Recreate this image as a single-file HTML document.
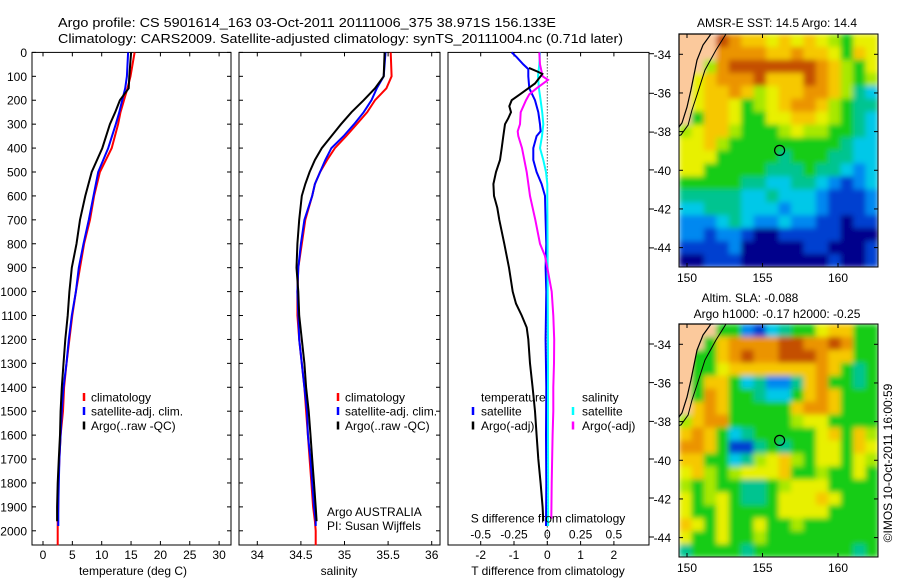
<!DOCTYPE html>
<html><head><meta charset="utf-8"><style>
html,body{margin:0;padding:0;background:#fff;}
svg{display:block;font-family:"Liberation Sans",sans-serif;}
</style></head><body>
<svg id="fig" xmlns="http://www.w3.org/2000/svg" width="900" height="580" viewBox="0 0 900 580">
<defs>
<filter id="blur" x="0" y="0" width="1" height="1"><feGaussianBlur stdDeviation="2.6" edgeMode="duplicate"/></filter>
<clipPath id="clip1"><rect x="679" y="34" width="199" height="233"/></clipPath>
<clipPath id="clip2"><rect x="679" y="324" width="199" height="233"/></clipPath>
</defs>
<rect x="0" y="0" width="900" height="580" fill="#fff"/>
<text x="58" y="27" font-size="13" textLength="498" lengthAdjust="spacingAndGlyphs">Argo profile: CS 5901614_163 03-Oct-2011 20111006_375 38.971S 156.133E</text>
<text x="58" y="43" font-size="13" textLength="565" lengthAdjust="spacingAndGlyphs">Climatology: CARS2009. Satellite-adjusted climatology: synTS_20111004.nc (0.71d later)</text>
<g id="g"></g>
</svg>
<script>
// ---------- data ----------
const depthT = [0,100,150,200,250,300,400,500,600,700,800,900,1000,1100,1200,1300,1400,1500,1600,1700,1800,1900,1960,2000,2060];
const tempClim = [15.6,14.9,14.4,13.8,13.2,12.8,11.7,9.7,8.7,8.0,7.0,6.3,5.6,5.0,4.5,4.0,3.6,3.4,3.0,2.8,2.6,2.6,2.5,2.5,2.5];
const tempSat  = [14.5,14.3,14.0,13.5,13.0,12.4,11.1,9.4,8.6,7.8,6.9,6.1,5.6,4.9,4.4,4.0,3.5,3.2,3.0,2.8,2.7,2.6,2.6];
const tempArgo = [15.0,14.7,14.6,13.1,12.3,11.4,10.1,8.3,7.2,6.3,5.7,4.9,4.5,4.2,3.8,3.5,3.2,3.0,2.9,2.7,2.5,2.4,2.4];
const depthS = [0,100,150,200,250,300,350,400,450,500,550,600,700,800,900,1000,1100,1200,1300,1400,1500,1600,1700,1800,1900,1960,2000,2060];
const salClim = [35.53,35.54,35.48,35.35,35.26,35.14,35.02,34.89,34.80,34.72,34.66,34.63,34.55,34.51,34.47,34.46,34.46,34.48,34.51,34.54,34.56,34.58,34.60,34.62,34.64,34.66,34.67,34.67];
const salSat  = [35.47,35.45,35.37,35.31,35.22,35.11,34.99,34.85,34.78,34.72,34.66,34.63,34.54,34.50,34.47,34.46,34.47,34.48,34.51,34.54,34.57,34.58,34.61,34.63,34.65,34.67,34.67];
const salArgo = [35.46,35.45,35.35,35.22,35.08,34.96,34.85,34.74,34.66,34.60,34.55,34.51,34.48,34.46,34.45,34.47,34.48,34.51,34.54,34.56,34.59,34.61,34.63,34.65,34.67,34.68];
const dDepthTS = [0,20,50,70,100,150,200,250,300,330,350,400,450,500,550,600,700,800,900,1000,1200,1400,1600,1800,1980];
const dTsat = [-1.07,-0.92,-0.72,-0.57,-0.57,-0.54,-0.37,-0.27,-0.22,-0.2,-0.32,-0.42,-0.42,-0.32,-0.17,-0.07,-0.05,-0.03,-0.05,-0.03,-0.05,-0.03,-0.04,-0.03,-0.04];
const dDepthTA = [65,80,90,100,130,150,175,200,225,250,275,300,350,400,450,500,550,600,650,700,800,900,1000,1050,1100,1150,1200,1300,1400,1500,1600,1700,1800,1900,1960];
const dTargo = [-0.55,-0.3,-0.15,-0.2,-0.37,-0.57,-0.82,-1.07,-1.14,-1.09,-1.17,-1.27,-1.32,-1.37,-1.42,-1.54,-1.62,-1.6,-1.5,-1.44,-1.29,-1.15,-1.04,-0.94,-0.77,-0.62,-0.57,-0.52,-0.44,-0.37,-0.32,-0.27,-0.2,-0.14,-0.12];
const dDepthSS = [0,50,100,150,200,250,300,350,400,450,500,550,600,800,1000,1200,1400,1600,1800,1980];
const dSsat = [-0.055,-0.06,-0.07,-0.063,-0.05,-0.038,-0.03,-0.04,-0.055,-0.03,-0.01,0,0,0.002,0.003,0.005,0.005,0.005,0.006,0.006];
const dDepthSA = [0,50,100,115,150,175,200,250,300,330,350,400,500,600,700,800,850,900,1000,1100,1200,1300,1400,1500,1600,1800,1950];
const dSargo = [-0.06,-0.055,-0.035,0.005,-0.08,-0.135,-0.16,-0.2,-0.205,-0.222,-0.218,-0.19,-0.155,-0.13,-0.09,-0.055,-0.018,0,0.033,0.045,0.052,0.05,0.045,0.045,0.04,0.033,0.03];
const depthTicks = [0,100,200,300,400,500,600,700,800,900,1000,1100,1200,1300,1400,1500,1600,1700,1800,1900,2000];
const tempTicks = [0,5,10,15,20,25,30];
const salTicks = [34,34.5,35,35.5,36];
const salTickLabels = ["34","34.5","35","35.5","36"];
const dTTicks = [-2,-1,0,1,2];
const dSTicks = [-0.5,-0.25,0,0.25,0.5];
const latTicks = [-34,-36,-38,-40,-42,-44];
const lonTicks = [150,155,160];
const sstGrid = [
"LLLROYYyYyYygGyy","LLLOOOOYYOYYyGYy","LLgORRRRRRROYgGy","LyYOOORYYYROYgGg",
"LyYYOYgyYYOOYgTC","LyYYyGgyYOOYgGTT","LGYYyGGyyYYygGTC","gyYYgGGGgyggGGTC",
"yyYgGGGGGGGGGTCC","yyyGGGGGTGGGTTCC","yyGGGGGTTTGTTCBC","GGGGGTTCCTTCBbBC",
"TTTTTCCTCCCBbbbB","CCTTTCCCBCCBbbbB","BBBCTCBBCBBbbNbb","BBbBBbNNbbbbbNNN",
"bbbbBNNNNNbbNNNb","NNbbbNNNNNNNbNNb"];
const slaGrid = [
"LLLGGBbCTGGyYYGG","LLGYOOOORROOROGG","LGGYOROORRROYYGG","LGGyYYYYYYYOYGTG",
"LGYYGCTBBTYOGGTG","LGOYGGTCCGYOYGGG","LYOYGGGGGYOOYGGG","gYOOGGGGGgyyGGGG",
"YOYGCTGGGGGyYGYg","OOYGbbTGTGGyyGYy","YYGGCTgyYgGyyGyg","yYgGgyyyYGGgGGyG",
"gGgGGTTGgyyyGGGG","yGgyGTTGyyyYyGGG","yGGyGGGGyyyyGGGG","YyGyGGyGGgGGGGGG",
"yGGyGGgGGGGGGGGG","TGGGGTGGGGGGGGTG"];
const coastLon = [149.4,151.75,151.59,151.06,150.66,150.26,150.0,149.67,149.47,149.4];
const coastLat = [-32.85,-32.85,-32.95,-33.52,-34.3,-35.85,-36.73,-37.55,-37.76,-37.8];
const isoLon = [152.58,151.92,151.19,150.66,150.33,150.07,149.6,149.4];
const isoLat = [-32.95,-33.78,-34.81,-36.1,-36.88,-37.66,-38.17,-38.2];
const argoLon = 156.133, argoLat = -38.971;

// ---------- helpers ----------
const NS="http://www.w3.org/2000/svg";
const G=document.getElementById('g');
function mk(tag,attrs,parent){const e=document.createElementNS(NS,tag);for(const k in attrs)e.setAttribute(k,attrs[k]);(parent||G).appendChild(e);return e;}
function txt(s,x,y,size,anchor,parent){const t=mk('text',{x:x,y:y,'font-size':size,'text-anchor':anchor||'start'},parent);t.textContent=s;return t;}
const yD = d => 52.4 + d*0.2392;
function line(xs,ys,fx,fy,color,name,w){
  const pts=xs.map((v,i)=>fx(v).toFixed(1)+','+fy(ys[i]).toFixed(1)).join(' ');
  const p=mk('polyline',{points:pts,fill:'none',stroke:color,'stroke-width':w||2,'stroke-linejoin':'miter'});
  
  
  return p;
}
function frame(x0,x1,name){
  const r=mk('rect',{x:x0,y:52.4,width:x1-x0,height:545-52.4,fill:'none',stroke:'#000','stroke-width':1});
  
  
}
function depthTickMarks(x0,x1,labels){
  depthTicks.forEach(d=>{const y=yD(d);mk('line',{x1:x0,y1:y,x2:x0+4,y2:y,stroke:'#000'});mk('line',{x1:x1,y1:y,x2:x1-4,y2:y,stroke:'#000'});
    if(labels){const t=txt(String(d),27,y+4.5,12,'end');}});
}
function legendEntry(mx,tx,y,color,label){
  const m=mk('line',{x1:mx,y1:y-4,x2:mx,y2:y+4,stroke:color,'stroke-width':2.5});
  
  
  const t=txt(label,tx,y+4.5,12,'start');
  
  
}

// ---------- temperature panel ----------
const xT = v => 43 + v*5.87;
frame(32,231,'temperature-panel');
depthTickMarks(32,231,true);
tempTicks.forEach(v=>{const x=xT(v);mk('line',{x1:x,y1:545,x2:x,y2:541,stroke:'#000'});mk('line',{x1:x,y1:52.4,x2:x,y2:56.4,stroke:'#000'});
  const t=txt(String(v),x,559,12,'middle');});
line(tempClim,depthT.slice(0,tempClim.length),xT,yD,'#ff0000','temp-climatology-line');
line(tempSat,depthT.slice(0,tempSat.length).map((d,i)=>i===tempSat.length-1?1980:d),xT,yD,'#0000ff','temp-satellite-line');
line(tempArgo,depthT.slice(0,tempArgo.length),xT,yD,'#000000','temp-argo-line');
{const t=txt('temperature (deg C)',133,575,12,'middle');}
legendEntry(84,91,397,'#ff0000','climatology');
legendEntry(84,91,411,'#0000ff','satellite-adj. clim.');
legendEntry(84,91,425.5,'#000000','Argo(..raw -QC)');

// ---------- salinity panel ----------
const xS = v => 257.3 + (v-34)*87.2;
frame(239,440,'salinity-panel');
depthTickMarks(239,440,false);
salTicks.forEach((v,i)=>{const x=xS(v);mk('line',{x1:x,y1:545,x2:x,y2:541,stroke:'#000'});mk('line',{x1:x,y1:52.4,x2:x,y2:56.4,stroke:'#000'});
  const t=txt(salTickLabels[i],x,559,12,'middle');});
line(salClim,depthS.slice(0,salClim.length),xS,yD,'#ff0000','sal-climatology-line');
line(salSat,depthS.slice(0,salSat.length).map((d,i)=>i===salSat.length-1?1980:d),xS,yD,'#0000ff','sal-satellite-line');
line(salArgo,depthS.slice(0,salArgo.length),xS,yD,'#000000','sal-argo-line');
{const t=txt('salinity',339,575,12,'middle');}
legendEntry(338,345,397,'#ff0000','climatology');
legendEntry(338,345,411,'#0000ff','satellite-adj. clim.');
legendEntry(338,345,425.5,'#000000','Argo(..raw -QC)');
{const t=txt('Argo AUSTRALIA',327,516,12,'start');
 const t2=txt('PI: Susan Wijffels',327,530,12,'start');}

// ---------- difference panel ----------
const xDT = v => 547.3 + v*33.3;
const xDS = v => 547.3 + v*133.2;
frame(448,649,'difference-panel');
mk('line',{x1:xDT(0),y1:52.4,x2:xDT(0),y2:545,stroke:'#000','stroke-width':1,'stroke-dasharray':'1,2'});
[53.7,93.3,132.1,169.9,209,247.9,344,382.6,421.4,459,498,537].forEach(y=>mk('line',{x1:649,y1:y,x2:654,y2:y,stroke:'#000'}));
dTTicks.forEach(v=>{const x=xDT(v);mk('line',{x1:x,y1:52.4,x2:x,y2:56.4,stroke:'#000'});mk('line',{x1:x,y1:545,x2:x,y2:541,stroke:'#000'});
  const t=txt(String(v),x,559,12,'middle');});
dSTicks.forEach(v=>{const t=txt(String(v),xDS(v),538.5,12,'middle');});
line(dTsat,dDepthTS,xDT,yD,'#0000ff','t-diff-satellite-line');
line(dSsat,dDepthSS,xDS,yD,'#00ffff','s-diff-satellite-line');
line(dSargo,dDepthSA,xDS,yD,'#ff00ff','s-diff-argo-line');
line(dTargo,dDepthTA,xDT,yD,'#000000','t-diff-argo-line');
{const t=txt('S difference from climatology',548,522.5,12,'middle');
 const t2=txt('T difference from climatology',548,575,12,'middle');}
{const t=txt('temperature',481,401.5,12,'start');
 const t2=txt('salinity',582,401.5,12,'start');}
legendEntry(473,481,411,'#0000ff','satellite');
legendEntry(473,481,425.5,'#000000','Argo(-adj)');
legendEntry(573,582,411,'#00ffff','satellite');
legendEntry(573,582,425.5,'#ff00ff','Argo(-adj)');

// ---------- maps ----------
const PAL={L:'#fbc99c',R:'#c45000',O:'#eb9400',Y:'#f6c800',y:'#e8f000',g:'#a8e800',G:'#18cc18',T:'#00c490',C:'#00c8e8',B:'#0088f0',b:'#0040d0',N:'#00008c'};
function drawMap(top,grid,name,clipId){
  const x0=679,x1=878,y0=top,y1=top+233;
  const lonX=v=>687+(v-150)*15.1;
  const latY=v=>top+20.3+(-34-v)*19.33;
  const g=mk('g',{});
  
  
  const cg=mk('g',{'clip-path':'url(#'+clipId+')'},g);
  const bg=mk('g',{filter:'url(#blur)'},cg);
  const nr=grid.length,nc=grid[0].length,cw=(x1-x0)/nc,ch=(y1-y0)/nr;
  grid.forEach((row,r)=>{for(let c=0;c<nc;c++){mk('rect',{x:(x0+c*cw).toFixed(2),y:(y0+r*ch).toFixed(2),width:(cw+0.5).toFixed(2),height:(ch+0.5).toFixed(2),fill:PAL[row[c]]},bg);}});
  const cp=coastLon.map((v,i)=>Math.max(x0,lonX(v)).toFixed(1)+','+Math.max(y0,latY(coastLat[i])).toFixed(1)).join(' ');
  const land=mk('polygon',{points:cp,fill:'#fbc99c',stroke:'#000','stroke-width':1.2},g);
  
  
  const iso=mk('polyline',{points:isoLon.map((v,i)=>Math.max(x0,lonX(v)).toFixed(1)+','+Math.max(y0,latY(isoLat[i])).toFixed(1)).join(' '),fill:'none',stroke:'#000','stroke-width':1},g);
  
  
  mk('rect',{x:x0,y:y0,width:x1-x0,height:y1-y0,fill:'none',stroke:'#000','stroke-width':1},g);
  const c=mk('circle',{cx:lonX(argoLon),cy:latY(argoLat),r:5,fill:'none',stroke:'#000','stroke-width':1.2},g);
  
  
  latTicks.forEach(v=>{const y=latY(v);mk('line',{x1:x0,y1:y,x2:x0+4,y2:y,stroke:'#000'},g);mk('line',{x1:x1,y1:y,x2:x1-4,y2:y,stroke:'#000'},g);
    const t=txt(String(v),671,y+4.5,12,'end',g);});
  lonTicks.forEach(v=>{const x=lonX(v);mk('line',{x1:x,y1:y1,x2:x,y2:y1-4,stroke:'#000'},g);mk('line',{x1:x,y1:y0,x2:x,y2:y0+4,stroke:'#000'},g);
    const t=txt(String(v),x,y1+15,12,'middle',g);});
}
drawMap(34,sstGrid,'sst-map','clip1');
drawMap(324,slaGrid,'sla-map','clip2');
{const t=txt('AMSR-E SST: 14.5 Argo: 14.4',777,27,12,'middle');
 const t2=txt('Altim. SLA: -0.088',750,302,12,'middle');
 const t3=txt('Argo h1000: -0.17 h2000: -0.25',777,318,12,'middle');
 const t4=txt('\u00A9IMOS 10-Oct-2011 16:00:59',0,0,12,'middle');t4.setAttribute('transform','translate(892,463) rotate(-90)');}
</script>
</body></html>
